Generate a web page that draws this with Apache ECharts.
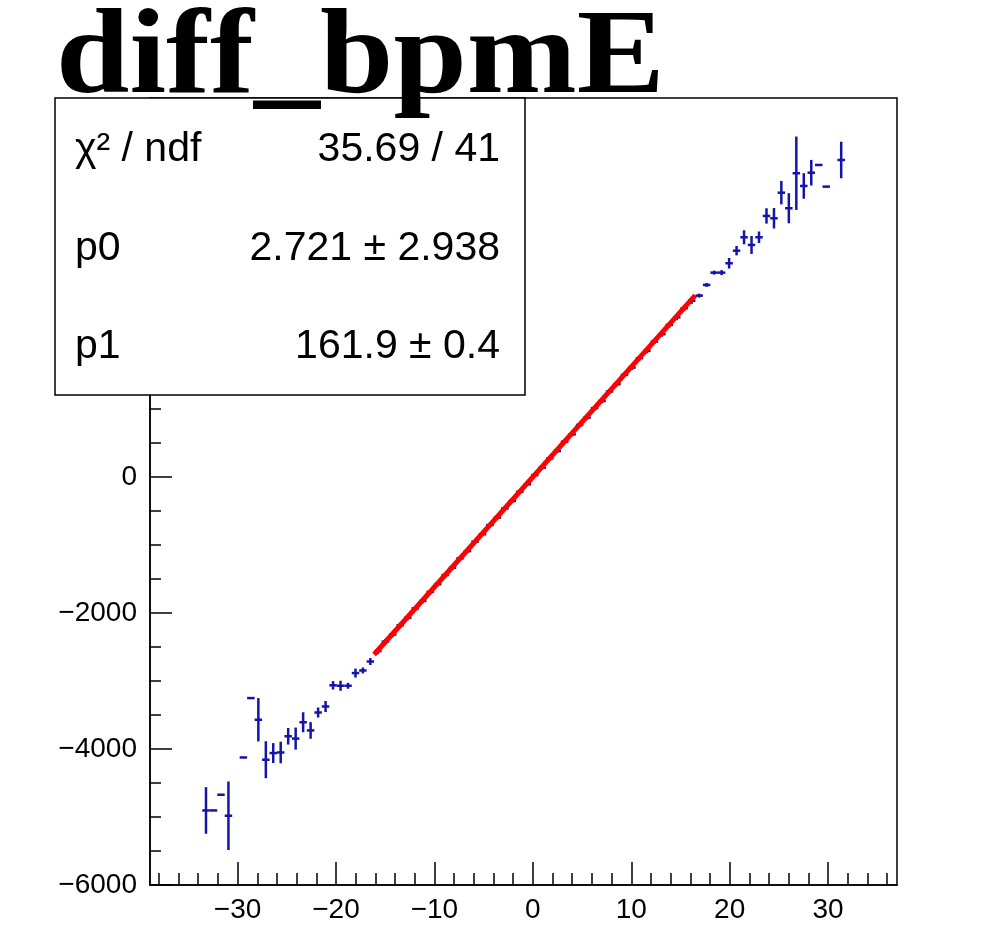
<!DOCTYPE html>
<html><head><meta charset="utf-8">
<script src="https://cdn.jsdelivr.net/npm/echarts@6/dist/echarts.min.js"></script>
<style>html,body{margin:0;padding:0;background:#fff}#c{width:992px;height:941px}</style>
</head><body><div id="c"></div>
<script>
// ---- data (profile bins: centre, mean, error) ----
const xValues = [-33.21,-32.45,-31.69,-30.93,-29.41,-28.65,-27.89,-27.13,-26.38,-25.62,-24.86,-24.10,-23.34,-22.58,-21.82,-21.06,-20.30,-19.54,-18.78,-18.02,-17.27,-16.51,
  -15.75,-14.99,-14.23,-13.47,-12.71,-11.95,-11.19,-10.43,-9.67,-8.91,-8.16,-7.40,-6.64,-5.88,-5.12,-4.36,-3.60,-2.84,-2.08,-1.32,-0.56,0.20,0.96,1.72,2.48,3.23,3.99,4.75,5.51,6.27,7.03,7.79,8.55,9.31,10.07,10.83,11.59,12.35,13.11,13.86,14.62,15.38,16.14,
  16.90,17.66,18.42,19.18,19.94,20.70,21.46,22.22,22.98,23.74,24.50,25.25,26.01,26.77,27.53,28.29,29.05,29.81,31.33];
const yValues = [-4903,-4903,-4672,-4981,-4124,-3250,-3569,-4157,-4059,-4050,-3812,-3846,-3606,-3726,-3462,-3374,-3062,-3069,-3069,-2882,-2844,-2712,
  -2560,-2420,-2315,-2178,-2070,-1930,-1822,-1688,-1575,-1440,-1332,-1195,-1088,-950,-840,-705,-595,-460,-350,-215,-105,30,140,276,385,522,630,768,876,1015,1120,1260,1368,1505,1612,1750,1858,1995,2103,2240,2350,2485,2595,
  2671,2828,3009,3009,3147,3332,3529,3416,3529,3843,3809,4185,3956,4471,4284,4479,4593,4274,4666];
const yErrors = [343,0,0,504,0,0,319,272,147,159,122,162,147,122,74,81,62,74,44,66,44,51,
  45,40,38,36,35,33,32,31,30,30,29,28,28,28,27,27,27,27,27,27,27,27,27,28,28,28,29,29,30,30,31,31,32,32,33,34,35,36,37,38,40,42,44,
  29,29,29,37,78,69,103,132,85,113,151,172,221,540,188,188,0,0,269];
const xHalfWidth = 0.38;
const fitX = [-16.13, 16.5];
const fitY = [-2609, 2674];
const xTickLabels = [-30,-20,-10,0,10,20,30];
const xMinorTicks = [-38,-36,-34,-32,-28,-26,-24,-22,-18,-16,-14,-12,-8,-6,-4,-2,2,4,6,8,12,14,16,18,22,24,26,28,32,34,36];
const yTickLabels = [-6000,-4000,-2000,0,2000,4000];
const yMinorTicks = [-5500,-5000,-4500,-3500,-3000,-2500,-1500,-1000,-500,500,1000,1500,2500,3000,3500,4500,5000,5500];
const statsRows = [["χ² / ndf","35.69 / 41"],["p0","2.721 ± 2.938"],["p1","161.9 ± 0.4"]];
const titleText = "diff_bpmE";

const BLUE = '#1414a8';
const fmt = v => String(v).replace('-', '\u2212');
const chart = echarts.init(document.getElementById('c'), null, {renderer:'canvas'});

const rowY = [150, 249, 347];
const graphics = [
  {type:'text', z:100, x:56, y:61, scaleX:1.1, scaleY:1,
   style:{x:0, y:0, text:titleText, font:"bold 120px 'Liberation Serif'", fill:'#000', textAlign:'left', textVerticalAlign:'middle'}},
  {type:'rect', z:90, shape:{x:55, y:98, width:470, height:297}, style:{fill:'#fff', stroke:'#000', lineWidth:1.5}}
];
statsRows.forEach((r,i)=>{
  graphics.push({type:'text', z:95, style:{x:75, y:rowY[i], text:r[0], font:"41px 'Liberation Sans'", fill:'#000', textAlign:'left', textVerticalAlign:'middle'}});
  graphics.push({type:'text', z:95, style:{x:500, y:rowY[i], text:r[1], font:"41px 'Liberation Sans'", fill:'#000', textAlign:'right', textVerticalAlign:'middle'}});
});

const axisLineStyle = {color:'#000', width:1.5};
chart.setOption({
  animation:false,
  backgroundColor:'#fff',
  grid:{left:150, right:95, top:98, bottom:56, show:true, borderColor:'#000', borderWidth:1.5, backgroundColor:'#fff'},
  xAxis:[
    {type:'value', min:-38.9, max:37, position:'bottom',
     axisLine:{onZero:false, lineStyle:axisLineStyle},
     axisTick:{inside:true, length:23, customValues:xTickLabels, lineStyle:axisLineStyle},
     axisLabel:{customValues:xTickLabels, formatter:fmt, fontFamily:'Liberation Sans', fontSize:28, color:'#000', margin:11},
     splitLine:{show:false}},
    {type:'value', min:-38.9, max:37, position:'bottom',
     axisLine:{show:false, onZero:false},
     axisTick:{inside:true, length:12, customValues:xMinorTicks, lineStyle:axisLineStyle},
     axisLabel:{show:false}, splitLine:{show:false}}
  ],
  yAxis:[
    {type:'value', min:-6000, max:5578, position:'left',
     axisLine:{onZero:false, lineStyle:axisLineStyle},
     axisTick:{inside:true, length:22, customValues:yTickLabels, lineStyle:axisLineStyle},
     axisLabel:{customValues:yTickLabels, formatter:fmt, fontFamily:'Liberation Sans', fontSize:28, color:'#000', margin:13},
     splitLine:{show:false}},
    {type:'value', min:-6000, max:5578, position:'left',
     axisLine:{show:false, onZero:false},
     axisTick:{inside:true, length:11, customValues:yMinorTicks, lineStyle:axisLineStyle},
     axisLabel:{show:false}, splitLine:{show:false}}
  ],
  series:[
    {type:'custom', xAxisIndex:0, yAxisIndex:0, z:3,
     data:xValues.map((x,i)=>[x, yValues[i], yErrors[i]]),
     renderItem:(params, api)=>{
       const x = api.value(0), y = api.value(1), e = api.value(2);
       const l = api.coord([x - xHalfWidth, y]);
       const r = api.coord([x + xHalfWidth, y]);
       const style = {stroke:BLUE, lineWidth:2.5};
       const children = [{type:'line', shape:{x1:l[0], y1:l[1], x2:r[0], y2:r[1]}, style}];
       if (e > 0) {
         const t = api.coord([x, y + e]);
         const b = api.coord([x, y - e]);
         children.push({type:'line', shape:{x1:t[0], y1:t[1], x2:b[0], y2:b[1]}, style});
       }
       return {type:'group', children};
     }},
    {type:'line', xAxisIndex:0, yAxisIndex:0, z:5, symbol:'none',
     data:fitX.map((x,i)=>[x, fitY[i]]),
     lineStyle:{color:'#ff0000', width:5}}
  ],
  graphic:graphics
});
</script></body></html>
